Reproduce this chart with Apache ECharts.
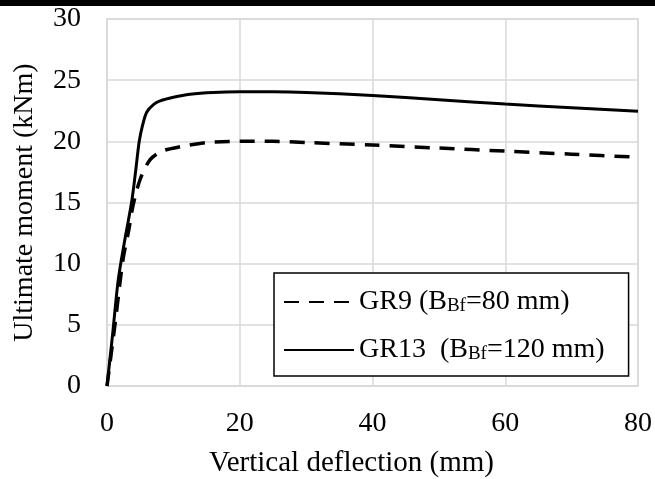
<!DOCTYPE html>
<html>
<head>
<meta charset="utf-8">
<script src="https://cdn.jsdelivr.net/npm/echarts@6/dist/echarts.min.js"></script>
<style>
  html, body { margin: 0; padding: 0; background: #fff; }
  #main { width: 655px; height: 479px; }
</style>
</head>
<body>
<div id="main"></div>
<script>
// GR9 - dashed curve (deflection mm, moment kNm)
var gr9 = [
  [0, 0], [1.2, 5], [2.4, 10.3], [3.3, 12.8], [3.9, 14.7], [5, 16.9], [6.5, 18.5],
  [8.3, 19.2], [11, 19.55], [15, 19.9], [20, 20], [25, 20], [30, 19.9], [40, 19.7],
  [50, 19.45], [60, 19.2], [70, 18.95], [80, 18.7]
];
// GR13 - solid curve
var gr13 = [
  [0, 0], [0.8, 4], [1.7, 8.7], [2.7, 12], [3.7, 15], [4.3, 17.5], [4.86, 20],
  [5.4, 21.4], [6, 22.4], [7, 23], [8, 23.3], [10, 23.6], [12.5, 23.85], [16, 24],
  [20, 24.05], [25, 24.05], [30, 24], [40, 23.75], [50, 23.4], [60, 23.05],
  [70, 22.75], [80, 22.45]
];
var seriesNames = ['GR9', 'GR13'];
// legend text: prefix, subscript, suffix
var legendText = {
  GR9: ['GR9 (B', 'Bf', '=80 mm)'],
  GR13: ['GR13  (B', 'Bf', '=120 mm)']
};

var font = 'Liberation Serif';
var gridColor = '#d9d9d9';

var myChart = echarts.init(document.getElementById('main'));
myChart.setOption({
  animation: false,
  backgroundColor: '#fff',
  graphic: [{
    // black rule along the top edge
    type: 'rect',
    left: 0, top: 0,
    shape: { width: 655, height: 6 },
    style: { fill: '#000' }
  }],
  grid: {
    left: 107, top: 19, right: 17, bottom: 93,
    outerBoundsMode: 'none',
    show: true,
    borderColor: gridColor,
    borderWidth: 1.5
  },
  legend: {
    orient: 'vertical',
    left: 274, top: 273,
    padding: [15, 24, 12, 9],
    itemGap: 20,
    itemWidth: 70,
    itemHeight: 14,
    borderColor: '#000',
    borderWidth: 1.5,
    backgroundColor: '#fff',
    itemStyle: { color: 'transparent', borderWidth: 0, opacity: 0 },
    data: seriesNames,
    formatter: function (name) {
      var t = legendText[name];
      return '{n|' + t[0] + '}{s|' + t[1] + '}{n|' + t[2] + '}';
    },
    textStyle: {
      rich: {
        n: { fontFamily: font, fontSize: 28, color: '#000', lineHeight: 32 },
        s: { fontFamily: font, fontSize: 19, color: '#000', lineHeight: 32, padding: [9, 0, 0, 0] }
      }
    }
  },
  xAxis: {
    type: 'value',
    min: 0, max: 80, interval: 20,
    name: 'Vertical deflection (mm)',
    nameLocation: 'middle',
    nameGap: 63,
    nameTextStyle: { fontFamily: font, fontSize: 29, color: '#000', padding: [0, 42, 0, 0] },
    axisLine: { show: true, lineStyle: { color: gridColor, width: 1.5 } },
    axisTick: { show: false },
    axisLabel: { fontFamily: font, fontSize: 28, color: '#000', margin: 24 },
    splitLine: { lineStyle: { color: gridColor, width: 1.5 } }
  },
  yAxis: {
    type: 'value',
    min: 0, max: 30, interval: 5,
    name: 'Ultimate moment (kNm)',
    nameLocation: 'middle',
    nameGap: 68,
    nameTextStyle: { fontFamily: font, fontSize: 28, color: '#000' },
    axisLine: { show: true, lineStyle: { color: gridColor, width: 1.5 } },
    axisTick: { show: false },
    axisLabel: { fontFamily: font, fontSize: 28, color: '#000', margin: 26 },
    splitLine: { lineStyle: { color: gridColor, width: 1.5 } }
  },
  series: [{
    name: 'GR9',
    type: 'line',
    data: gr9,
    smooth: 0.3,
    showSymbol: false,
    symbol: 'none',
    lineStyle: { color: '#000', width: 3.5, type: [15, 10] },
    itemStyle: { color: '#000' }
  }, {
    name: 'GR13',
    type: 'line',
    data: gr13,
    smooth: 0.3,
    showSymbol: false,
    symbol: 'none',
    lineStyle: { color: '#000', width: 3 },
    itemStyle: { color: '#000' }
  }]
});
</script>
</body>
</html>
